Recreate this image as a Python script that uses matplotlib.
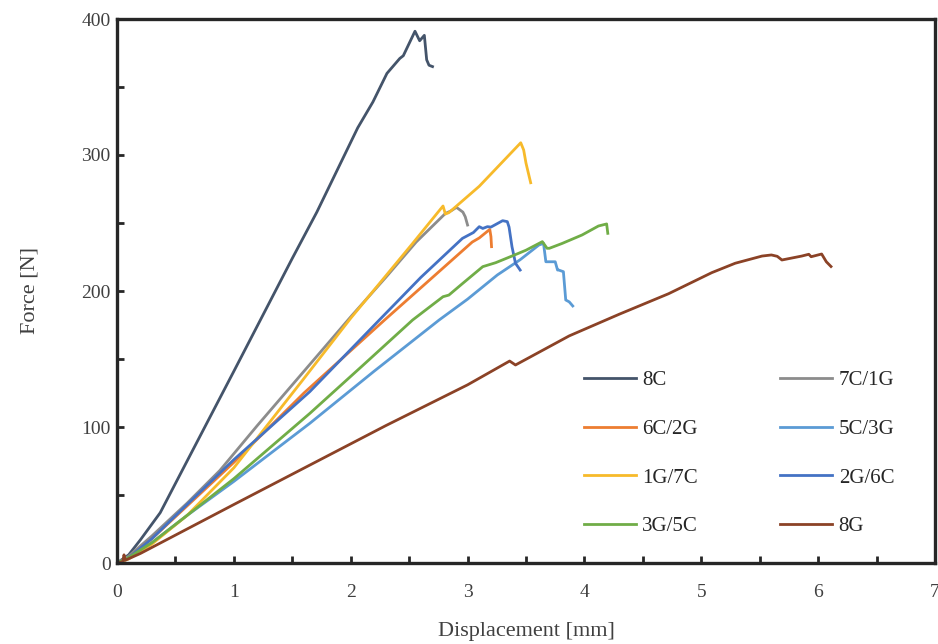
import matplotlib
matplotlib.use('Agg')
import matplotlib.pyplot as plt
from matplotlib.ticker import MultipleLocator

plt.rcParams['font.family'] = ['Liberation Serif', 'DejaVu Serif']

# data (displacement mm, force N)
d_8c = [0, 0.1, 0.2, 0.37, 0.6, 1.0, 1.5, 1.71, 2.06, 2.19, 2.31, 2.36, 2.42, 2.45, 2.55, 2.59, 2.63, 2.65, 2.67, 2.70]
f_8c = [0, 6, 17, 37, 75, 141, 224, 258, 320, 339, 360, 365, 371, 373, 391, 384, 388, 370, 366, 365]

d_7c1g = [0, 0.1, 0.3, 0.6, 0.88, 1.2, 1.53, 2.0, 2.3, 2.56, 2.81, 2.86, 2.905, 2.96, 2.98, 3.0]
f_7c1g = [0, 5, 20, 44, 68, 101, 134, 181, 210, 236, 257, 259, 261.5, 258, 254.6, 248.5]

d_6c2g = [0, 0.1, 0.3, 0.6, 1.0, 1.6, 2.29, 2.7, 3.04, 3.1, 3.19, 3.2, 3.205]
f_6c2g = [0, 4, 18, 42, 74, 125, 178.7, 210, 236, 239, 245.3, 240, 232.6]

d_5c3g = [0, 0.1, 0.3, 0.6, 1.0, 1.65, 2.2, 2.757, 3.0, 3.255, 3.45, 3.61, 3.65, 3.67, 3.75, 3.77, 3.78, 3.82, 3.84, 3.87, 3.90]
f_5c3g = [0, 4, 15, 35, 60, 102.7, 141, 178.7, 194, 211.8, 223, 233.8, 235, 221.5, 221.5, 215.4, 215.4, 214.2, 193.4, 192, 189]

d_1g7c = [0, 0.1, 0.3, 0.6, 1.0, 1.59, 2.0, 2.53, 2.7, 2.79, 2.81, 2.84, 3.1, 3.455, 3.48, 3.50, 3.54]
f_1g7c = [0, 3, 14, 35, 70, 134.6, 180, 235, 253, 262.5, 256.6, 257.6, 277, 309, 303.7, 294, 279.6]

d_2g6c = [0, 0.1, 0.3, 0.6, 1.0, 1.65, 2.245, 2.6, 2.956, 3.05, 3.10, 3.13, 3.17, 3.2, 3.30, 3.34, 3.355, 3.38, 3.41, 3.45]
f_2g6c = [0, 4, 18, 43, 76, 126, 178.7, 210, 238.7, 243, 247.3, 246, 247.3, 247, 251.7, 251, 247, 232.6, 220.4, 215.4]

d_3g5c = [0, 0.1, 0.3, 0.6, 1.0, 1.65, 2.1, 2.53, 2.79, 2.84, 2.95, 3.13, 3.24, 3.38, 3.5, 3.64, 3.68, 3.70, 3.81, 3.98, 4.12, 4.19, 4.20]
f_3g5c = [0, 4, 15, 35, 62, 110, 145, 178.7, 195.8, 197, 205, 217.9, 220.8, 225.7, 230, 236.3, 231.4, 231.4, 235, 241.2, 247.8, 249.3, 242.4]

d_8g = [0, 0.05, 0.06, 0.07, 0.2, 0.6, 1.0, 1.65, 2.3, 3.0, 3.36, 3.41, 3.87, 4.3, 4.72, 5.09, 5.29, 5.52, 5.60, 5.65, 5.69, 5.86, 5.92, 5.94, 6.03, 6.07, 6.11]
f_8g = [0, 1, 6, 2, 7, 25, 43, 72, 101, 131, 148.5, 145.6, 167, 183, 198, 213.5, 220.4, 225.7, 226.5, 225.5, 222.8, 225.7, 227, 225.2, 227.2, 221.5, 218]

series = [
    ('8C', d_8c, f_8c, '#44546A'),
    ('7C/1G', d_7c1g, f_7c1g, '#8C8C8C'),
    ('6C/2G', d_6c2g, f_6c2g, '#ED7D31'),
    ('5C/3G', d_5c3g, f_5c3g, '#5B9BD5'),
    ('1G/7C', d_1g7c, f_1g7c, '#F7BA2A'),
    ('2G/6C', d_2g6c, f_2g6c, '#4472C4'),
    ('3G/5C', d_3g5c, f_3g5c, '#70AD47'),
    ('8G', d_8g, f_8g, '#8B4226'),
]

fig = plt.figure(figsize=(9.38, 6.44), dpi=100)
ax = fig.add_axes([117/938, 81/644, 818/938, 544/644])

handles = []
for name, x, y, c in series:
    ln, = ax.plot(x, y, color=c, linewidth=2.0, label=name)
    handles.append(ln)

ax.set_xlim(0, 7)
ax.set_ylim(0, 400)
ax.xaxis.set_major_locator(MultipleLocator(1))
ax.xaxis.set_minor_locator(MultipleLocator(0.5))
ax.yaxis.set_major_locator(MultipleLocator(100))
ax.yaxis.set_minor_locator(MultipleLocator(50))
ax.tick_params(which='both', direction='in', length=5, width=2, color='#262626',
               labelsize=14, labelcolor='#404040', top=False, right=False)
ax.tick_params(axis='x', pad=15)
ax.tick_params(axis='y', pad=4.5)
for s in ax.spines.values():
    s.set_linewidth(2.4)
    s.set_color('#262626')

ax.set_xlabel('Displacement [mm]', fontsize=16, color='#404040', labelpad=15)
ax.set_ylabel('Force [N]', fontsize=16, color='#404040', labelpad=30)

# row-major legend order (matplotlib fills columns first)
order = [0, 2, 4, 6, 1, 3, 5, 7]
ax.legend([handles[i] for i in order], [series[i][0] for i in order],
          ncol=2, loc='lower left', bbox_to_anchor=(0.548, 0.015), frameon=False,
          fontsize=15, handlelength=2.5, handletextpad=0.3, columnspacing=3.95,
          labelspacing=1.39, labelcolor='#262626')

fig.savefig('out.png', dpi=100)
